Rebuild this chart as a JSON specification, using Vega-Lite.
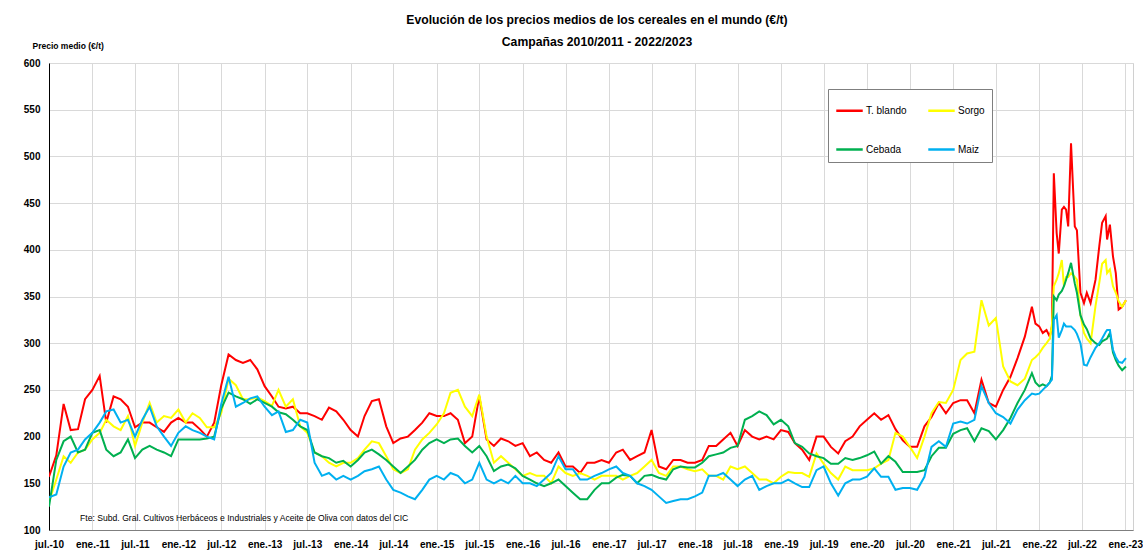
{
"$schema": "https://vega.github.io/schema/vega-lite/v6.json",
"width": 1084, "height": 467,
"autosize": {"type": "none"},
"padding": {"left": 49, "top": 63, "right": 10, "bottom": 23},
"background": "white",
"config": {"font": "Liberation Sans, Arial, sans-serif", "view": {"stroke": "#d0d0d0"}},
"title": {"text": ["Evolución de los precios medios de los cereales en el mundo (€/t)", "Campañas 2010/2011 - 2022/2023"], "anchor": "middle", "fontSize": 12.2, "fontWeight": "bold", "lineHeight": 22, "offset": 14, "dy": 21, "color": "#000", "dx": 6},
"data": {"values": [
{"fecha":"2010-07-01","serie":"T. blando","precio":157},{"fecha":"2010-08-01","serie":"T. blando","precio":180},{"fecha":"2010-09-01","serie":"T. blando","precio":235},{"fecha":"2010-10-01","serie":"T. blando","precio":207},{"fecha":"2010-11-01","serie":"T. blando","precio":208},{"fecha":"2010-12-01","serie":"T. blando","precio":240},
{"fecha":"2011-01-01","serie":"T. blando","precio":250},{"fecha":"2011-02-01","serie":"T. blando","precio":265},{"fecha":"2011-03-01","serie":"T. blando","precio":215},{"fecha":"2011-04-01","serie":"T. blando","precio":243},{"fecha":"2011-05-01","serie":"T. blando","precio":240},{"fecha":"2011-06-01","serie":"T. blando","precio":232},{"fecha":"2011-07-01","serie":"T. blando","precio":210},{"fecha":"2011-08-01","serie":"T. blando","precio":215},{"fecha":"2011-09-01","serie":"T. blando","precio":215},{"fecha":"2011-10-01","serie":"T. blando","precio":210},{"fecha":"2011-11-01","serie":"T. blando","precio":205},{"fecha":"2011-12-01","serie":"T. blando","precio":215},
{"fecha":"2012-01-01","serie":"T. blando","precio":220},{"fecha":"2012-02-01","serie":"T. blando","precio":215},{"fecha":"2012-03-01","serie":"T. blando","precio":215},{"fecha":"2012-04-01","serie":"T. blando","precio":208},{"fecha":"2012-05-01","serie":"T. blando","precio":200},{"fecha":"2012-06-01","serie":"T. blando","precio":215},{"fecha":"2012-07-01","serie":"T. blando","precio":255},{"fecha":"2012-08-01","serie":"T. blando","precio":288},{"fecha":"2012-09-01","serie":"T. blando","precio":282},{"fecha":"2012-10-01","serie":"T. blando","precio":279},{"fecha":"2012-11-01","serie":"T. blando","precio":282},{"fecha":"2012-12-01","serie":"T. blando","precio":272},
{"fecha":"2013-01-01","serie":"T. blando","precio":254},{"fecha":"2013-02-01","serie":"T. blando","precio":243},{"fecha":"2013-03-01","serie":"T. blando","precio":232},{"fecha":"2013-04-01","serie":"T. blando","precio":230},{"fecha":"2013-05-01","serie":"T. blando","precio":232},{"fecha":"2013-06-01","serie":"T. blando","precio":225},{"fecha":"2013-07-01","serie":"T. blando","precio":225},{"fecha":"2013-08-01","serie":"T. blando","precio":222},{"fecha":"2013-09-01","serie":"T. blando","precio":218},{"fecha":"2013-10-01","serie":"T. blando","precio":231},{"fecha":"2013-11-01","serie":"T. blando","precio":227},{"fecha":"2013-12-01","serie":"T. blando","precio":218},
{"fecha":"2014-01-01","serie":"T. blando","precio":207},{"fecha":"2014-02-01","serie":"T. blando","precio":200},{"fecha":"2014-03-01","serie":"T. blando","precio":222},{"fecha":"2014-04-01","serie":"T. blando","precio":238},{"fecha":"2014-05-01","serie":"T. blando","precio":240},{"fecha":"2014-06-01","serie":"T. blando","precio":211},{"fecha":"2014-07-01","serie":"T. blando","precio":193},{"fecha":"2014-08-01","serie":"T. blando","precio":198},{"fecha":"2014-09-01","serie":"T. blando","precio":200},{"fecha":"2014-10-01","serie":"T. blando","precio":207},{"fecha":"2014-11-01","serie":"T. blando","precio":215},{"fecha":"2014-12-01","serie":"T. blando","precio":225},
{"fecha":"2015-01-01","serie":"T. blando","precio":222},{"fecha":"2015-02-01","serie":"T. blando","precio":222},{"fecha":"2015-03-01","serie":"T. blando","precio":225},{"fecha":"2015-04-01","serie":"T. blando","precio":218},{"fecha":"2015-05-01","serie":"T. blando","precio":193},{"fecha":"2015-06-01","serie":"T. blando","precio":200},{"fecha":"2015-07-01","serie":"T. blando","precio":243},{"fecha":"2015-08-01","serie":"T. blando","precio":197},{"fecha":"2015-09-01","serie":"T. blando","precio":190},{"fecha":"2015-10-01","serie":"T. blando","precio":198},{"fecha":"2015-11-01","serie":"T. blando","precio":195},{"fecha":"2015-12-01","serie":"T. blando","precio":190},
{"fecha":"2016-01-01","serie":"T. blando","precio":193},{"fecha":"2016-02-01","serie":"T. blando","precio":179},{"fecha":"2016-03-01","serie":"T. blando","precio":183},{"fecha":"2016-04-01","serie":"T. blando","precio":175},{"fecha":"2016-05-01","serie":"T. blando","precio":172},{"fecha":"2016-06-01","serie":"T. blando","precio":183},{"fecha":"2016-07-01","serie":"T. blando","precio":168},{"fecha":"2016-08-01","serie":"T. blando","precio":168},{"fecha":"2016-09-01","serie":"T. blando","precio":161},{"fecha":"2016-10-01","serie":"T. blando","precio":172},{"fecha":"2016-11-01","serie":"T. blando","precio":172},{"fecha":"2016-12-01","serie":"T. blando","precio":175},
{"fecha":"2017-01-01","serie":"T. blando","precio":172},{"fecha":"2017-02-01","serie":"T. blando","precio":183},{"fecha":"2017-03-01","serie":"T. blando","precio":186},{"fecha":"2017-04-01","serie":"T. blando","precio":175},{"fecha":"2017-05-01","serie":"T. blando","precio":179},{"fecha":"2017-06-01","serie":"T. blando","precio":183},{"fecha":"2017-07-01","serie":"T. blando","precio":207},{"fecha":"2017-08-01","serie":"T. blando","precio":168},{"fecha":"2017-09-01","serie":"T. blando","precio":165},{"fecha":"2017-10-01","serie":"T. blando","precio":175},{"fecha":"2017-11-01","serie":"T. blando","precio":175},{"fecha":"2017-12-01","serie":"T. blando","precio":172},
{"fecha":"2018-01-01","serie":"T. blando","precio":172},{"fecha":"2018-02-01","serie":"T. blando","precio":175},{"fecha":"2018-03-01","serie":"T. blando","precio":190},{"fecha":"2018-04-01","serie":"T. blando","precio":190},{"fecha":"2018-05-01","serie":"T. blando","precio":197},{"fecha":"2018-06-01","serie":"T. blando","precio":204},{"fecha":"2018-07-01","serie":"T. blando","precio":190},{"fecha":"2018-08-01","serie":"T. blando","precio":207},{"fecha":"2018-09-01","serie":"T. blando","precio":200},{"fecha":"2018-10-01","serie":"T. blando","precio":197},{"fecha":"2018-11-01","serie":"T. blando","precio":200},{"fecha":"2018-12-01","serie":"T. blando","precio":197},
{"fecha":"2019-01-01","serie":"T. blando","precio":207},{"fecha":"2019-02-01","serie":"T. blando","precio":205},{"fecha":"2019-03-01","serie":"T. blando","precio":193},{"fecha":"2019-04-01","serie":"T. blando","precio":186},{"fecha":"2019-05-01","serie":"T. blando","precio":175},{"fecha":"2019-06-01","serie":"T. blando","precio":200},{"fecha":"2019-07-01","serie":"T. blando","precio":200},{"fecha":"2019-08-01","serie":"T. blando","precio":189},{"fecha":"2019-09-01","serie":"T. blando","precio":182},{"fecha":"2019-10-01","serie":"T. blando","precio":195},{"fecha":"2019-11-01","serie":"T. blando","precio":200},{"fecha":"2019-12-01","serie":"T. blando","precio":211},
{"fecha":"2020-01-01","serie":"T. blando","precio":218},{"fecha":"2020-02-01","serie":"T. blando","precio":225},{"fecha":"2020-03-01","serie":"T. blando","precio":218},{"fecha":"2020-04-01","serie":"T. blando","precio":223},{"fecha":"2020-05-01","serie":"T. blando","precio":208},{"fecha":"2020-06-01","serie":"T. blando","precio":196},{"fecha":"2020-07-01","serie":"T. blando","precio":189},{"fecha":"2020-08-01","serie":"T. blando","precio":189},{"fecha":"2020-09-01","serie":"T. blando","precio":211},{"fecha":"2020-10-01","serie":"T. blando","precio":221},{"fecha":"2020-11-01","serie":"T. blando","precio":236},{"fecha":"2020-12-01","serie":"T. blando","precio":225},
{"fecha":"2021-01-01","serie":"T. blando","precio":236},{"fecha":"2021-02-01","serie":"T. blando","precio":239},{"fecha":"2021-03-01","serie":"T. blando","precio":239},{"fecha":"2021-04-01","serie":"T. blando","precio":225},{"fecha":"2021-05-01","serie":"T. blando","precio":261},{"fecha":"2021-06-01","serie":"T. blando","precio":236},{"fecha":"2021-07-01","serie":"T. blando","precio":232},{"fecha":"2021-08-01","serie":"T. blando","precio":250},{"fecha":"2021-09-01","serie":"T. blando","precio":264},{"fecha":"2021-10-01","serie":"T. blando","precio":284},{"fecha":"2021-11-01","serie":"T. blando","precio":307},{"fecha":"2021-12-01","serie":"T. blando","precio":339},
{"fecha":"2021-12-16","serie":"T. blando","precio":321},{"fecha":"2022-01-01","serie":"T. blando","precio":318},{"fecha":"2022-01-16","serie":"T. blando","precio":311},{"fecha":"2022-02-01","serie":"T. blando","precio":314},{"fecha":"2022-02-15","serie":"T. blando","precio":307},{"fecha":"2022-02-24","serie":"T. blando","precio":318},{"fecha":"2022-03-04","serie":"T. blando","precio":482},{"fecha":"2022-03-16","serie":"T. blando","precio":418},{"fecha":"2022-03-25","serie":"T. blando","precio":396},{"fecha":"2022-04-07","serie":"T. blando","precio":443},{"fecha":"2022-04-16","serie":"T. blando","precio":446},{"fecha":"2022-04-25","serie":"T. blando","precio":443},{"fecha":"2022-05-04","serie":"T. blando","precio":425},{"fecha":"2022-05-16","serie":"T. blando","precio":514},{"fecha":"2022-06-01","serie":"T. blando","precio":425},{"fecha":"2022-06-10","serie":"T. blando","precio":421},{"fecha":"2022-06-25","serie":"T. blando","precio":354},{"fecha":"2022-07-10","serie":"T. blando","precio":343},{"fecha":"2022-07-22","serie":"T. blando","precio":354},{"fecha":"2022-08-07","serie":"T. blando","precio":343},{"fecha":"2022-08-28","serie":"T. blando","precio":368},{"fecha":"2022-09-13","serie":"T. blando","precio":404},{"fecha":"2022-09-25","serie":"T. blando","precio":429},{"fecha":"2022-10-10","serie":"T. blando","precio":436},{"fecha":"2022-10-16","serie":"T. blando","precio":411},{"fecha":"2022-10-28","serie":"T. blando","precio":427},{"fecha":"2022-11-10","serie":"T. blando","precio":393},{"fecha":"2022-11-22","serie":"T. blando","precio":375},{"fecha":"2022-12-04","serie":"T. blando","precio":336},{"fecha":"2022-12-19","serie":"T. blando","precio":339},{"fecha":"2023-01-04","serie":"T. blando","precio":346},

{"fecha":"2010-07-01","serie":"Sorgo","precio":130},{"fecha":"2010-08-01","serie":"Sorgo","precio":154},{"fecha":"2010-09-01","serie":"Sorgo","precio":179},{"fecha":"2010-10-01","serie":"Sorgo","precio":172},{"fecha":"2010-11-01","serie":"Sorgo","precio":183},{"fecha":"2010-12-01","serie":"Sorgo","precio":186},
{"fecha":"2011-01-01","serie":"Sorgo","precio":197},{"fecha":"2011-02-01","serie":"Sorgo","precio":204},{"fecha":"2011-03-01","serie":"Sorgo","precio":218},{"fecha":"2011-04-01","serie":"Sorgo","precio":211},{"fecha":"2011-05-01","serie":"Sorgo","precio":207},{"fecha":"2011-06-01","serie":"Sorgo","precio":222},{"fecha":"2011-07-01","serie":"Sorgo","precio":190},{"fecha":"2011-08-01","serie":"Sorgo","precio":215},{"fecha":"2011-09-01","serie":"Sorgo","precio":236},{"fecha":"2011-10-01","serie":"Sorgo","precio":215},{"fecha":"2011-11-01","serie":"Sorgo","precio":222},{"fecha":"2011-12-01","serie":"Sorgo","precio":220},
{"fecha":"2012-01-01","serie":"Sorgo","precio":229},{"fecha":"2012-02-01","serie":"Sorgo","precio":215},{"fecha":"2012-03-01","serie":"Sorgo","precio":225},{"fecha":"2012-04-01","serie":"Sorgo","precio":220},{"fecha":"2012-05-01","serie":"Sorgo","precio":210},{"fecha":"2012-06-01","serie":"Sorgo","precio":210},{"fecha":"2012-07-01","serie":"Sorgo","precio":225},{"fecha":"2012-08-01","serie":"Sorgo","precio":262},{"fecha":"2012-09-01","serie":"Sorgo","precio":255},{"fecha":"2012-10-01","serie":"Sorgo","precio":240},{"fecha":"2012-11-01","serie":"Sorgo","precio":240},{"fecha":"2012-12-01","serie":"Sorgo","precio":242},
{"fecha":"2013-01-01","serie":"Sorgo","precio":238},{"fecha":"2013-02-01","serie":"Sorgo","precio":233},{"fecha":"2013-03-01","serie":"Sorgo","precio":250},{"fecha":"2013-04-01","serie":"Sorgo","precio":232},{"fecha":"2013-05-01","serie":"Sorgo","precio":240},{"fecha":"2013-06-01","serie":"Sorgo","precio":211},{"fecha":"2013-07-01","serie":"Sorgo","precio":204},{"fecha":"2013-08-01","serie":"Sorgo","precio":183},{"fecha":"2013-09-01","serie":"Sorgo","precio":179},{"fecha":"2013-10-01","serie":"Sorgo","precio":172},{"fecha":"2013-11-01","serie":"Sorgo","precio":168},{"fecha":"2013-12-01","serie":"Sorgo","precio":172},
{"fecha":"2014-01-01","serie":"Sorgo","precio":172},{"fecha":"2014-02-01","serie":"Sorgo","precio":177},{"fecha":"2014-03-01","serie":"Sorgo","precio":186},{"fecha":"2014-04-01","serie":"Sorgo","precio":195},{"fecha":"2014-05-01","serie":"Sorgo","precio":193},{"fecha":"2014-06-01","serie":"Sorgo","precio":179},{"fecha":"2014-07-01","serie":"Sorgo","precio":165},{"fecha":"2014-08-01","serie":"Sorgo","precio":161},{"fecha":"2014-09-01","serie":"Sorgo","precio":165},{"fecha":"2014-10-01","serie":"Sorgo","precio":186},{"fecha":"2014-11-01","serie":"Sorgo","precio":197},{"fecha":"2014-12-01","serie":"Sorgo","precio":204},
{"fecha":"2015-01-01","serie":"Sorgo","precio":213},{"fecha":"2015-02-01","serie":"Sorgo","precio":225},{"fecha":"2015-03-01","serie":"Sorgo","precio":247},{"fecha":"2015-04-01","serie":"Sorgo","precio":250},{"fecha":"2015-05-01","serie":"Sorgo","precio":232},{"fecha":"2015-06-01","serie":"Sorgo","precio":222},{"fecha":"2015-07-01","serie":"Sorgo","precio":245},{"fecha":"2015-08-01","serie":"Sorgo","precio":200},{"fecha":"2015-09-01","serie":"Sorgo","precio":172},{"fecha":"2015-10-01","serie":"Sorgo","precio":179},{"fecha":"2015-11-01","serie":"Sorgo","precio":172},{"fecha":"2015-12-01","serie":"Sorgo","precio":165},
{"fecha":"2016-01-01","serie":"Sorgo","precio":158},{"fecha":"2016-02-01","serie":"Sorgo","precio":161},{"fecha":"2016-03-01","serie":"Sorgo","precio":158},{"fecha":"2016-04-01","serie":"Sorgo","precio":158},{"fecha":"2016-05-01","serie":"Sorgo","precio":150},{"fecha":"2016-06-01","serie":"Sorgo","precio":168},{"fecha":"2016-07-01","serie":"Sorgo","precio":161},{"fecha":"2016-08-01","serie":"Sorgo","precio":158},{"fecha":"2016-09-01","serie":"Sorgo","precio":161},{"fecha":"2016-10-01","serie":"Sorgo","precio":158},{"fecha":"2016-11-01","serie":"Sorgo","precio":154},{"fecha":"2016-12-01","serie":"Sorgo","precio":158},
{"fecha":"2017-01-01","serie":"Sorgo","precio":158},{"fecha":"2017-02-01","serie":"Sorgo","precio":158},{"fecha":"2017-03-01","serie":"Sorgo","precio":154},{"fecha":"2017-04-01","serie":"Sorgo","precio":158},{"fecha":"2017-05-01","serie":"Sorgo","precio":161},{"fecha":"2017-06-01","serie":"Sorgo","precio":168},{"fecha":"2017-07-01","serie":"Sorgo","precio":175},{"fecha":"2017-08-01","serie":"Sorgo","precio":161},{"fecha":"2017-09-01","serie":"Sorgo","precio":158},{"fecha":"2017-10-01","serie":"Sorgo","precio":168},{"fecha":"2017-11-01","serie":"Sorgo","precio":168},{"fecha":"2017-12-01","serie":"Sorgo","precio":165},
{"fecha":"2018-01-01","serie":"Sorgo","precio":163},{"fecha":"2018-02-01","serie":"Sorgo","precio":165},{"fecha":"2018-03-01","serie":"Sorgo","precio":158},{"fecha":"2018-04-01","serie":"Sorgo","precio":158},{"fecha":"2018-05-01","serie":"Sorgo","precio":154},{"fecha":"2018-06-01","serie":"Sorgo","precio":168},{"fecha":"2018-07-01","serie":"Sorgo","precio":165},{"fecha":"2018-08-01","serie":"Sorgo","precio":168},{"fecha":"2018-09-01","serie":"Sorgo","precio":161},{"fecha":"2018-10-01","serie":"Sorgo","precio":154},{"fecha":"2018-11-01","serie":"Sorgo","precio":154},{"fecha":"2018-12-01","serie":"Sorgo","precio":150},
{"fecha":"2019-01-01","serie":"Sorgo","precio":157},{"fecha":"2019-02-01","serie":"Sorgo","precio":162},{"fecha":"2019-03-01","serie":"Sorgo","precio":161},{"fecha":"2019-04-01","serie":"Sorgo","precio":161},{"fecha":"2019-05-01","serie":"Sorgo","precio":157},{"fecha":"2019-06-01","serie":"Sorgo","precio":182},{"fecha":"2019-07-01","serie":"Sorgo","precio":171},{"fecha":"2019-08-01","serie":"Sorgo","precio":161},{"fecha":"2019-09-01","serie":"Sorgo","precio":154},{"fecha":"2019-10-01","serie":"Sorgo","precio":168},{"fecha":"2019-11-01","serie":"Sorgo","precio":164},{"fecha":"2019-12-01","serie":"Sorgo","precio":164},
{"fecha":"2020-01-01","serie":"Sorgo","precio":164},{"fecha":"2020-02-01","serie":"Sorgo","precio":166},{"fecha":"2020-03-01","serie":"Sorgo","precio":171},{"fecha":"2020-04-01","serie":"Sorgo","precio":175},{"fecha":"2020-05-01","serie":"Sorgo","precio":204},{"fecha":"2020-06-01","serie":"Sorgo","precio":200},{"fecha":"2020-07-01","serie":"Sorgo","precio":189},{"fecha":"2020-08-01","serie":"Sorgo","precio":177},{"fecha":"2020-09-01","serie":"Sorgo","precio":200},{"fecha":"2020-10-01","serie":"Sorgo","precio":225},{"fecha":"2020-11-01","serie":"Sorgo","precio":237},{"fecha":"2020-12-01","serie":"Sorgo","precio":236},
{"fecha":"2021-01-01","serie":"Sorgo","precio":250},{"fecha":"2021-02-01","serie":"Sorgo","precio":282},{"fecha":"2021-03-01","serie":"Sorgo","precio":289},{"fecha":"2021-04-01","serie":"Sorgo","precio":291},{"fecha":"2021-05-01","serie":"Sorgo","precio":346},{"fecha":"2021-06-01","serie":"Sorgo","precio":319},{"fecha":"2021-07-01","serie":"Sorgo","precio":327},{"fecha":"2021-08-01","serie":"Sorgo","precio":275},{"fecha":"2021-09-01","serie":"Sorgo","precio":259},{"fecha":"2021-10-01","serie":"Sorgo","precio":255},{"fecha":"2021-11-01","serie":"Sorgo","precio":262},{"fecha":"2021-12-01","serie":"Sorgo","precio":282},
{"fecha":"2021-12-16","serie":"Sorgo","precio":285},{"fecha":"2022-01-01","serie":"Sorgo","precio":289},{"fecha":"2022-01-16","serie":"Sorgo","precio":295},{"fecha":"2022-02-01","serie":"Sorgo","precio":300},{"fecha":"2022-02-15","serie":"Sorgo","precio":305},{"fecha":"2022-02-24","serie":"Sorgo","precio":320},{"fecha":"2022-03-04","serie":"Sorgo","precio":361},{"fecha":"2022-03-16","serie":"Sorgo","precio":368},{"fecha":"2022-03-25","serie":"Sorgo","precio":375},{"fecha":"2022-04-07","serie":"Sorgo","precio":389},{"fecha":"2022-04-16","serie":"Sorgo","precio":361},{"fecha":"2022-04-25","serie":"Sorgo","precio":371},{"fecha":"2022-05-04","serie":"Sorgo","precio":371},{"fecha":"2022-05-16","serie":"Sorgo","precio":375},{"fecha":"2022-06-01","serie":"Sorgo","precio":371},{"fecha":"2022-06-10","serie":"Sorgo","precio":368},{"fecha":"2022-06-25","serie":"Sorgo","precio":330},{"fecha":"2022-07-10","serie":"Sorgo","precio":311},{"fecha":"2022-07-22","serie":"Sorgo","precio":305},{"fecha":"2022-08-07","serie":"Sorgo","precio":300},{"fecha":"2022-08-28","serie":"Sorgo","precio":340},{"fecha":"2022-09-13","serie":"Sorgo","precio":365},{"fecha":"2022-09-25","serie":"Sorgo","precio":385},{"fecha":"2022-10-10","serie":"Sorgo","precio":389},{"fecha":"2022-10-16","serie":"Sorgo","precio":375},{"fecha":"2022-10-28","serie":"Sorgo","precio":379},{"fecha":"2022-11-10","serie":"Sorgo","precio":361},{"fecha":"2022-11-22","serie":"Sorgo","precio":354},{"fecha":"2022-12-04","serie":"Sorgo","precio":345},{"fecha":"2022-12-19","serie":"Sorgo","precio":339},{"fecha":"2023-01-04","serie":"Sorgo","precio":346},

{"fecha":"2010-07-01","serie":"Cebada","precio":125},{"fecha":"2010-08-01","serie":"Cebada","precio":175},{"fecha":"2010-09-01","serie":"Cebada","precio":195},{"fecha":"2010-10-01","serie":"Cebada","precio":200},{"fecha":"2010-11-01","serie":"Cebada","precio":183},{"fecha":"2010-12-01","serie":"Cebada","precio":186},
{"fecha":"2011-01-01","serie":"Cebada","precio":204},{"fecha":"2011-02-01","serie":"Cebada","precio":207},{"fecha":"2011-03-01","serie":"Cebada","precio":186},{"fecha":"2011-04-01","serie":"Cebada","precio":179},{"fecha":"2011-05-01","serie":"Cebada","precio":183},{"fecha":"2011-06-01","serie":"Cebada","precio":197},{"fecha":"2011-07-01","serie":"Cebada","precio":177},{"fecha":"2011-08-01","serie":"Cebada","precio":186},{"fecha":"2011-09-01","serie":"Cebada","precio":190},{"fecha":"2011-10-01","serie":"Cebada","precio":186},{"fecha":"2011-11-01","serie":"Cebada","precio":183},{"fecha":"2011-12-01","serie":"Cebada","precio":179},
{"fecha":"2012-01-01","serie":"Cebada","precio":197},{"fecha":"2012-02-01","serie":"Cebada","precio":197},{"fecha":"2012-03-01","serie":"Cebada","precio":197},{"fecha":"2012-04-01","serie":"Cebada","precio":197},{"fecha":"2012-05-01","serie":"Cebada","precio":198},{"fecha":"2012-06-01","serie":"Cebada","precio":200},{"fecha":"2012-07-01","serie":"Cebada","precio":230},{"fecha":"2012-08-01","serie":"Cebada","precio":247},{"fecha":"2012-09-01","serie":"Cebada","precio":243},{"fecha":"2012-10-01","serie":"Cebada","precio":240},{"fecha":"2012-11-01","serie":"Cebada","precio":235},{"fecha":"2012-12-01","serie":"Cebada","precio":240},
{"fecha":"2013-01-01","serie":"Cebada","precio":236},{"fecha":"2013-02-01","serie":"Cebada","precio":232},{"fecha":"2013-03-01","serie":"Cebada","precio":226},{"fecha":"2013-04-01","serie":"Cebada","precio":224},{"fecha":"2013-05-01","serie":"Cebada","precio":218},{"fecha":"2013-06-01","serie":"Cebada","precio":211},{"fecha":"2013-07-01","serie":"Cebada","precio":207},{"fecha":"2013-08-01","serie":"Cebada","precio":183},{"fecha":"2013-09-01","serie":"Cebada","precio":179},{"fecha":"2013-10-01","serie":"Cebada","precio":177},{"fecha":"2013-11-01","serie":"Cebada","precio":172},{"fecha":"2013-12-01","serie":"Cebada","precio":174},
{"fecha":"2014-01-01","serie":"Cebada","precio":168},{"fecha":"2014-02-01","serie":"Cebada","precio":175},{"fecha":"2014-03-01","serie":"Cebada","precio":183},{"fecha":"2014-04-01","serie":"Cebada","precio":186},{"fecha":"2014-05-01","serie":"Cebada","precio":181},{"fecha":"2014-06-01","serie":"Cebada","precio":175},{"fecha":"2014-07-01","serie":"Cebada","precio":168},{"fecha":"2014-08-01","serie":"Cebada","precio":161},{"fecha":"2014-09-01","serie":"Cebada","precio":168},{"fecha":"2014-10-01","serie":"Cebada","precio":175},{"fecha":"2014-11-01","serie":"Cebada","precio":186},{"fecha":"2014-12-01","serie":"Cebada","precio":193},
{"fecha":"2015-01-01","serie":"Cebada","precio":197},{"fecha":"2015-02-01","serie":"Cebada","precio":193},{"fecha":"2015-03-01","serie":"Cebada","precio":197},{"fecha":"2015-04-01","serie":"Cebada","precio":198},{"fecha":"2015-05-01","serie":"Cebada","precio":190},{"fecha":"2015-06-01","serie":"Cebada","precio":183},{"fecha":"2015-07-01","serie":"Cebada","precio":190},{"fecha":"2015-08-01","serie":"Cebada","precio":179},{"fecha":"2015-09-01","serie":"Cebada","precio":163},{"fecha":"2015-10-01","serie":"Cebada","precio":168},{"fecha":"2015-11-01","serie":"Cebada","precio":170},{"fecha":"2015-12-01","serie":"Cebada","precio":166},
{"fecha":"2016-01-01","serie":"Cebada","precio":158},{"fecha":"2016-02-01","serie":"Cebada","precio":154},{"fecha":"2016-03-01","serie":"Cebada","precio":150},{"fecha":"2016-04-01","serie":"Cebada","precio":147},{"fecha":"2016-05-01","serie":"Cebada","precio":150},{"fecha":"2016-06-01","serie":"Cebada","precio":154},{"fecha":"2016-07-01","serie":"Cebada","precio":147},{"fecha":"2016-08-01","serie":"Cebada","precio":140},{"fecha":"2016-09-01","serie":"Cebada","precio":133},{"fecha":"2016-10-01","serie":"Cebada","precio":133},{"fecha":"2016-11-01","serie":"Cebada","precio":143},{"fecha":"2016-12-01","serie":"Cebada","precio":150},
{"fecha":"2017-01-01","serie":"Cebada","precio":150},{"fecha":"2017-02-01","serie":"Cebada","precio":156},{"fecha":"2017-03-01","serie":"Cebada","precio":159},{"fecha":"2017-04-01","serie":"Cebada","precio":158},{"fecha":"2017-05-01","serie":"Cebada","precio":150},{"fecha":"2017-06-01","serie":"Cebada","precio":158},{"fecha":"2017-07-01","serie":"Cebada","precio":159},{"fecha":"2017-08-01","serie":"Cebada","precio":156},{"fecha":"2017-09-01","serie":"Cebada","precio":154},{"fecha":"2017-10-01","serie":"Cebada","precio":165},{"fecha":"2017-11-01","serie":"Cebada","precio":168},{"fecha":"2017-12-01","serie":"Cebada","precio":167},
{"fecha":"2018-01-01","serie":"Cebada","precio":167},{"fecha":"2018-02-01","serie":"Cebada","precio":172},{"fecha":"2018-03-01","serie":"Cebada","precio":179},{"fecha":"2018-04-01","serie":"Cebada","precio":181},{"fecha":"2018-05-01","serie":"Cebada","precio":183},{"fecha":"2018-06-01","serie":"Cebada","precio":188},{"fecha":"2018-07-01","serie":"Cebada","precio":190},{"fecha":"2018-08-01","serie":"Cebada","precio":218},{"fecha":"2018-09-01","serie":"Cebada","precio":222},{"fecha":"2018-10-01","serie":"Cebada","precio":227},{"fecha":"2018-11-01","serie":"Cebada","precio":223},{"fecha":"2018-12-01","serie":"Cebada","precio":213},
{"fecha":"2019-01-01","serie":"Cebada","precio":218},{"fecha":"2019-02-01","serie":"Cebada","precio":211},{"fecha":"2019-03-01","serie":"Cebada","precio":193},{"fecha":"2019-04-01","serie":"Cebada","precio":189},{"fecha":"2019-05-01","serie":"Cebada","precio":182},{"fecha":"2019-06-01","serie":"Cebada","precio":179},{"fecha":"2019-07-01","serie":"Cebada","precio":177},{"fecha":"2019-08-01","serie":"Cebada","precio":171},{"fecha":"2019-09-01","serie":"Cebada","precio":171},{"fecha":"2019-10-01","serie":"Cebada","precio":177},{"fecha":"2019-11-01","serie":"Cebada","precio":175},{"fecha":"2019-12-01","serie":"Cebada","precio":177},
{"fecha":"2020-01-01","serie":"Cebada","precio":180},{"fecha":"2020-02-01","serie":"Cebada","precio":184},{"fecha":"2020-03-01","serie":"Cebada","precio":171},{"fecha":"2020-04-01","serie":"Cebada","precio":179},{"fecha":"2020-05-01","serie":"Cebada","precio":173},{"fecha":"2020-06-01","serie":"Cebada","precio":162},{"fecha":"2020-07-01","serie":"Cebada","precio":162},{"fecha":"2020-08-01","serie":"Cebada","precio":162},{"fecha":"2020-09-01","serie":"Cebada","precio":164},{"fecha":"2020-10-01","serie":"Cebada","precio":179},{"fecha":"2020-11-01","serie":"Cebada","precio":188},{"fecha":"2020-12-01","serie":"Cebada","precio":188},
{"fecha":"2021-01-01","serie":"Cebada","precio":203},{"fecha":"2021-02-01","serie":"Cebada","precio":207},{"fecha":"2021-03-01","serie":"Cebada","precio":209},{"fecha":"2021-04-01","serie":"Cebada","precio":195},{"fecha":"2021-05-01","serie":"Cebada","precio":209},{"fecha":"2021-06-01","serie":"Cebada","precio":206},{"fecha":"2021-07-01","serie":"Cebada","precio":197},{"fecha":"2021-08-01","serie":"Cebada","precio":207},{"fecha":"2021-09-01","serie":"Cebada","precio":220},{"fecha":"2021-10-01","serie":"Cebada","precio":236},{"fecha":"2021-11-01","serie":"Cebada","precio":250},{"fecha":"2021-12-01","serie":"Cebada","precio":268},
{"fecha":"2021-12-16","serie":"Cebada","precio":258},{"fecha":"2022-01-01","serie":"Cebada","precio":254},{"fecha":"2022-01-16","serie":"Cebada","precio":256},{"fecha":"2022-02-01","serie":"Cebada","precio":254},{"fecha":"2022-02-15","serie":"Cebada","precio":258},{"fecha":"2022-02-24","serie":"Cebada","precio":265},{"fecha":"2022-03-04","serie":"Cebada","precio":350},{"fecha":"2022-03-16","serie":"Cebada","precio":346},{"fecha":"2022-03-25","serie":"Cebada","precio":352},{"fecha":"2022-04-07","serie":"Cebada","precio":356},{"fecha":"2022-04-16","serie":"Cebada","precio":361},{"fecha":"2022-04-25","serie":"Cebada","precio":368},{"fecha":"2022-05-04","serie":"Cebada","precio":375},{"fecha":"2022-05-16","serie":"Cebada","precio":386},{"fecha":"2022-06-01","serie":"Cebada","precio":364},{"fecha":"2022-06-10","serie":"Cebada","precio":354},{"fecha":"2022-06-25","serie":"Cebada","precio":330},{"fecha":"2022-07-10","serie":"Cebada","precio":320},{"fecha":"2022-07-22","serie":"Cebada","precio":315},{"fecha":"2022-08-07","serie":"Cebada","precio":305},{"fecha":"2022-08-28","serie":"Cebada","precio":300},{"fecha":"2022-09-13","serie":"Cebada","precio":298},{"fecha":"2022-09-25","serie":"Cebada","precio":302},{"fecha":"2022-10-10","serie":"Cebada","precio":304},{"fecha":"2022-10-16","serie":"Cebada","precio":305},{"fecha":"2022-10-28","serie":"Cebada","precio":311},{"fecha":"2022-11-10","serie":"Cebada","precio":290},{"fecha":"2022-11-22","serie":"Cebada","precio":282},{"fecha":"2022-12-04","serie":"Cebada","precio":276},{"fecha":"2022-12-19","serie":"Cebada","precio":271},{"fecha":"2023-01-04","serie":"Cebada","precio":275},

{"fecha":"2010-07-01","serie":"Maiz","precio":135},{"fecha":"2010-08-01","serie":"Maiz","precio":138},{"fecha":"2010-09-01","serie":"Maiz","precio":168},{"fecha":"2010-10-01","serie":"Maiz","precio":183},{"fecha":"2010-11-01","serie":"Maiz","precio":186},{"fecha":"2010-12-01","serie":"Maiz","precio":197},
{"fecha":"2011-01-01","serie":"Maiz","precio":204},{"fecha":"2011-02-01","serie":"Maiz","precio":215},{"fecha":"2011-03-01","serie":"Maiz","precio":227},{"fecha":"2011-04-01","serie":"Maiz","precio":229},{"fecha":"2011-05-01","serie":"Maiz","precio":215},{"fecha":"2011-06-01","serie":"Maiz","precio":218},{"fecha":"2011-07-01","serie":"Maiz","precio":200},{"fecha":"2011-08-01","serie":"Maiz","precio":218},{"fecha":"2011-09-01","serie":"Maiz","precio":232},{"fecha":"2011-10-01","serie":"Maiz","precio":211},{"fecha":"2011-11-01","serie":"Maiz","precio":200},{"fecha":"2011-12-01","serie":"Maiz","precio":190},
{"fecha":"2012-01-01","serie":"Maiz","precio":204},{"fecha":"2012-02-01","serie":"Maiz","precio":211},{"fecha":"2012-03-01","serie":"Maiz","precio":207},{"fecha":"2012-04-01","serie":"Maiz","precio":204},{"fecha":"2012-05-01","serie":"Maiz","precio":200},{"fecha":"2012-06-01","serie":"Maiz","precio":197},{"fecha":"2012-07-01","serie":"Maiz","precio":235},{"fecha":"2012-08-01","serie":"Maiz","precio":264},{"fecha":"2012-09-01","serie":"Maiz","precio":232},{"fecha":"2012-10-01","serie":"Maiz","precio":236},{"fecha":"2012-11-01","serie":"Maiz","precio":241},{"fecha":"2012-12-01","serie":"Maiz","precio":243},
{"fecha":"2013-01-01","serie":"Maiz","precio":232},{"fecha":"2013-02-01","serie":"Maiz","precio":223},{"fecha":"2013-03-01","serie":"Maiz","precio":227},{"fecha":"2013-04-01","serie":"Maiz","precio":205},{"fecha":"2013-05-01","serie":"Maiz","precio":207},{"fecha":"2013-06-01","serie":"Maiz","precio":218},{"fecha":"2013-07-01","serie":"Maiz","precio":215},{"fecha":"2013-08-01","serie":"Maiz","precio":172},{"fecha":"2013-09-01","serie":"Maiz","precio":158},{"fecha":"2013-10-01","serie":"Maiz","precio":161},{"fecha":"2013-11-01","serie":"Maiz","precio":154},{"fecha":"2013-12-01","serie":"Maiz","precio":158},
{"fecha":"2014-01-01","serie":"Maiz","precio":154},{"fecha":"2014-02-01","serie":"Maiz","precio":158},{"fecha":"2014-03-01","serie":"Maiz","precio":163},{"fecha":"2014-04-01","serie":"Maiz","precio":165},{"fecha":"2014-05-01","serie":"Maiz","precio":168},{"fecha":"2014-06-01","serie":"Maiz","precio":154},{"fecha":"2014-07-01","serie":"Maiz","precio":143},{"fecha":"2014-08-01","serie":"Maiz","precio":140},{"fecha":"2014-09-01","serie":"Maiz","precio":136},{"fecha":"2014-10-01","serie":"Maiz","precio":133},{"fecha":"2014-11-01","serie":"Maiz","precio":143},{"fecha":"2014-12-01","serie":"Maiz","precio":154},
{"fecha":"2015-01-01","serie":"Maiz","precio":158},{"fecha":"2015-02-01","serie":"Maiz","precio":154},{"fecha":"2015-03-01","serie":"Maiz","precio":161},{"fecha":"2015-04-01","serie":"Maiz","precio":158},{"fecha":"2015-05-01","serie":"Maiz","precio":150},{"fecha":"2015-06-01","serie":"Maiz","precio":154},{"fecha":"2015-07-01","serie":"Maiz","precio":172},{"fecha":"2015-08-01","serie":"Maiz","precio":154},{"fecha":"2015-09-01","serie":"Maiz","precio":150},{"fecha":"2015-10-01","serie":"Maiz","precio":154},{"fecha":"2015-11-01","serie":"Maiz","precio":150},{"fecha":"2015-12-01","serie":"Maiz","precio":158},
{"fecha":"2016-01-01","serie":"Maiz","precio":150},{"fecha":"2016-02-01","serie":"Maiz","precio":150},{"fecha":"2016-03-01","serie":"Maiz","precio":147},{"fecha":"2016-04-01","serie":"Maiz","precio":154},{"fecha":"2016-05-01","serie":"Maiz","precio":161},{"fecha":"2016-06-01","serie":"Maiz","precio":179},{"fecha":"2016-07-01","serie":"Maiz","precio":165},{"fecha":"2016-08-01","serie":"Maiz","precio":165},{"fecha":"2016-09-01","serie":"Maiz","precio":154},{"fecha":"2016-10-01","serie":"Maiz","precio":154},{"fecha":"2016-11-01","serie":"Maiz","precio":158},{"fecha":"2016-12-01","serie":"Maiz","precio":161},
{"fecha":"2017-01-01","serie":"Maiz","precio":165},{"fecha":"2017-02-01","serie":"Maiz","precio":168},{"fecha":"2017-03-01","serie":"Maiz","precio":161},{"fecha":"2017-04-01","serie":"Maiz","precio":158},{"fecha":"2017-05-01","serie":"Maiz","precio":150},{"fecha":"2017-06-01","serie":"Maiz","precio":147},{"fecha":"2017-07-01","serie":"Maiz","precio":143},{"fecha":"2017-08-01","serie":"Maiz","precio":136},{"fecha":"2017-09-01","serie":"Maiz","precio":129},{"fecha":"2017-10-01","serie":"Maiz","precio":131},{"fecha":"2017-11-01","serie":"Maiz","precio":133},{"fecha":"2017-12-01","serie":"Maiz","precio":133},
{"fecha":"2018-01-01","serie":"Maiz","precio":136},{"fecha":"2018-02-01","serie":"Maiz","precio":140},{"fecha":"2018-03-01","serie":"Maiz","precio":158},{"fecha":"2018-04-01","serie":"Maiz","precio":158},{"fecha":"2018-05-01","serie":"Maiz","precio":161},{"fecha":"2018-06-01","serie":"Maiz","precio":154},{"fecha":"2018-07-01","serie":"Maiz","precio":147},{"fecha":"2018-08-01","serie":"Maiz","precio":154},{"fecha":"2018-09-01","serie":"Maiz","precio":158},{"fecha":"2018-10-01","serie":"Maiz","precio":143},{"fecha":"2018-11-01","serie":"Maiz","precio":147},{"fecha":"2018-12-01","serie":"Maiz","precio":150},
{"fecha":"2019-01-01","serie":"Maiz","precio":150},{"fecha":"2019-02-01","serie":"Maiz","precio":154},{"fecha":"2019-03-01","serie":"Maiz","precio":150},{"fecha":"2019-04-01","serie":"Maiz","precio":146},{"fecha":"2019-05-01","serie":"Maiz","precio":146},{"fecha":"2019-06-01","serie":"Maiz","precio":164},{"fecha":"2019-07-01","serie":"Maiz","precio":168},{"fecha":"2019-08-01","serie":"Maiz","precio":150},{"fecha":"2019-09-01","serie":"Maiz","precio":137},{"fecha":"2019-10-01","serie":"Maiz","precio":150},{"fecha":"2019-11-01","serie":"Maiz","precio":154},{"fecha":"2019-12-01","serie":"Maiz","precio":154},
{"fecha":"2020-01-01","serie":"Maiz","precio":157},{"fecha":"2020-02-01","serie":"Maiz","precio":166},{"fecha":"2020-03-01","serie":"Maiz","precio":157},{"fecha":"2020-04-01","serie":"Maiz","precio":157},{"fecha":"2020-05-01","serie":"Maiz","precio":143},{"fecha":"2020-06-01","serie":"Maiz","precio":145},{"fecha":"2020-07-01","serie":"Maiz","precio":145},{"fecha":"2020-08-01","serie":"Maiz","precio":143},{"fecha":"2020-09-01","serie":"Maiz","precio":157},{"fecha":"2020-10-01","serie":"Maiz","precio":189},{"fecha":"2020-11-01","serie":"Maiz","precio":195},{"fecha":"2020-12-01","serie":"Maiz","precio":189},
{"fecha":"2021-01-01","serie":"Maiz","precio":214},{"fecha":"2021-02-01","serie":"Maiz","precio":216},{"fecha":"2021-03-01","serie":"Maiz","precio":214},{"fecha":"2021-04-01","serie":"Maiz","precio":218},{"fecha":"2021-05-01","serie":"Maiz","precio":254},{"fecha":"2021-06-01","serie":"Maiz","precio":236},{"fecha":"2021-07-01","serie":"Maiz","precio":225},{"fecha":"2021-08-01","serie":"Maiz","precio":221},{"fecha":"2021-09-01","serie":"Maiz","precio":214},{"fecha":"2021-10-01","serie":"Maiz","precio":229},{"fecha":"2021-11-01","serie":"Maiz","precio":239},{"fecha":"2021-12-01","serie":"Maiz","precio":246},
{"fecha":"2021-12-16","serie":"Maiz","precio":245},{"fecha":"2022-01-01","serie":"Maiz","precio":246},{"fecha":"2022-01-16","serie":"Maiz","precio":250},{"fecha":"2022-02-01","serie":"Maiz","precio":254},{"fecha":"2022-02-15","serie":"Maiz","precio":258},{"fecha":"2022-02-24","serie":"Maiz","precio":261},{"fecha":"2022-03-04","serie":"Maiz","precio":325},{"fecha":"2022-03-16","serie":"Maiz","precio":330},{"fecha":"2022-03-25","serie":"Maiz","precio":306},{"fecha":"2022-04-07","serie":"Maiz","precio":314},{"fecha":"2022-04-16","serie":"Maiz","precio":321},{"fecha":"2022-04-25","serie":"Maiz","precio":318},{"fecha":"2022-05-04","serie":"Maiz","precio":318},{"fecha":"2022-05-16","serie":"Maiz","precio":318},{"fecha":"2022-06-01","serie":"Maiz","precio":314},{"fecha":"2022-06-10","serie":"Maiz","precio":310},{"fecha":"2022-06-25","serie":"Maiz","precio":300},{"fecha":"2022-07-10","serie":"Maiz","precio":277},{"fecha":"2022-07-22","serie":"Maiz","precio":276},{"fecha":"2022-08-07","serie":"Maiz","precio":285},{"fecha":"2022-08-28","serie":"Maiz","precio":295},{"fecha":"2022-09-13","serie":"Maiz","precio":300},{"fecha":"2022-09-25","serie":"Maiz","precio":305},{"fecha":"2022-10-10","serie":"Maiz","precio":312},{"fecha":"2022-10-16","serie":"Maiz","precio":314},{"fecha":"2022-10-28","serie":"Maiz","precio":314},{"fecha":"2022-11-10","serie":"Maiz","precio":293},{"fecha":"2022-11-22","serie":"Maiz","precio":285},{"fecha":"2022-12-04","serie":"Maiz","precio":280},{"fecha":"2022-12-19","serie":"Maiz","precio":279},{"fecha":"2023-01-04","serie":"Maiz","precio":284}
]},
"layer": [
{"mark": {"type": "line", "strokeWidth": 2, "clip": true},
 "encoding": {
  "x": {"field": "fecha", "type": "temporal",
        "scale": {"type": "utc", "domain": [{"year": 2010, "month": 7, "date": 1, "utc": true}, {"year": 2023, "month": 2, "date": 3, "utc": true}]},
        "axis": {"title": null,
                 "values": [{"year":2010,"month":7,"date":1,"utc":true},{"year":2011,"month":1,"date":1,"utc":true},{"year":2011,"month":7,"date":1,"utc":true},{"year":2012,"month":1,"date":1,"utc":true},{"year":2012,"month":7,"date":1,"utc":true},{"year":2013,"month":1,"date":1,"utc":true},{"year":2013,"month":7,"date":1,"utc":true},{"year":2014,"month":1,"date":1,"utc":true},{"year":2014,"month":7,"date":1,"utc":true},{"year":2015,"month":1,"date":1,"utc":true},{"year":2015,"month":7,"date":1,"utc":true},{"year":2016,"month":1,"date":1,"utc":true},{"year":2016,"month":7,"date":1,"utc":true},{"year":2017,"month":1,"date":1,"utc":true},{"year":2017,"month":7,"date":1,"utc":true},{"year":2018,"month":1,"date":1,"utc":true},{"year":2018,"month":7,"date":1,"utc":true},{"year":2019,"month":1,"date":1,"utc":true},{"year":2019,"month":7,"date":1,"utc":true},{"year":2020,"month":1,"date":1,"utc":true},{"year":2020,"month":7,"date":1,"utc":true},{"year":2021,"month":1,"date":1,"utc":true},{"year":2021,"month":7,"date":1,"utc":true},{"year":2022,"month":1,"date":1,"utc":true},{"year":2022,"month":7,"date":1,"utc":true},{"year":2023,"month":1,"date":1,"utc":true}],
                 "labelExpr": "(utcmonth(datum.value) == 0 ? 'ene.-' : 'jul.-') + utcFormat(datum.value, '%y')",
                 "grid": true, "gridColor": "#d9d9d9", "ticks": false, "labelPadding": 9,
                 "labelFontSize": 10, "labelFontWeight": "bold", "labelColor": "#000", "labelFlush": false,
                 "domainColor": "#7f7f7f"}},
  "y": {"field": "precio", "type": "quantitative",
        "scale": {"domain": [100, 600], "nice": false, "zero": false},
        "axis": {"title": "Precio medio (€/t)", "titleAngle": 0, "titleAlign": "left", "titleBaseline": "middle",
                 "titleX": -17, "titleY": -18, "titleFontSize": 8.5, "titleFontWeight": "bold", "titleColor": "#000",
                 "values": [100, 150, 200, 250, 300, 350, 400, 450, 500, 550, 600],
                 "grid": true, "gridColor": "#d9d9d9", "ticks": false, "labelPadding": 9,
                 "labelFontSize": 10, "labelFontWeight": "bold", "labelColor": "#000", "domainColor": "#000"}},
  "color": {"field": "serie", "type": "nominal",
            "scale": {"domain": ["T. blando", "Sorgo", "Cebada", "Maiz"], "range": ["#FF0000", "#FFFF00", "#00B050", "#00B0F0"]},
            "legend": {"title": null, "orient": "none", "legendX": 779, "legendY": 26, "direction": "horizontal", "columns": 2,
                       "symbolType": "stroke", "symbolStrokeWidth": 2.5, "symbolSize": 700, "labelFontSize": 10, "labelColor": "#000",
                       "labelOffset": 2, "columnPadding": 16, "rowPadding": 19, "padding": 7,
                       "strokeColor": "#7f7f7f", "fillColor": "white"}}
 }},
{"data": {"values": [{"nota": "Fte: Subd. Gral. Cultivos Herbáceos e Industriales y Aceite de Oliva con datos del CIC"}]},
 "mark": {"type": "text", "align": "left", "baseline": "middle", "fontSize": 8.6, "color": "#000"},
 "encoding": {
  "x": {"datum": {"year": 2010, "month": 11, "date": 10, "utc": true}, "type": "temporal"},
  "y": {"datum": 113, "type": "quantitative"},
  "text": {"field": "nota", "type": "nominal"}
 }}
]
}
